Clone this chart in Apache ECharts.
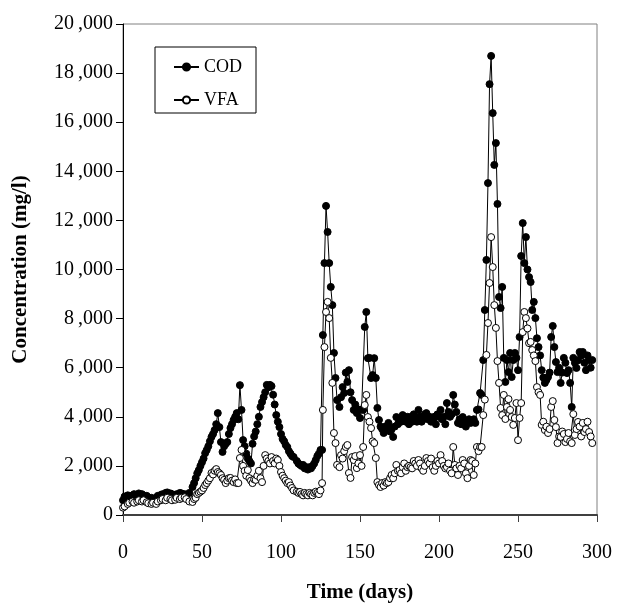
<!DOCTYPE html>
<html><head><meta charset="utf-8">
<script src="https://cdn.jsdelivr.net/npm/echarts@6/dist/echarts.min.js"></script>
<style>html,body{margin:0;padding:0;background:#fff}#c{width:617px;height:604px}</style>
</head><body><div id="c"></div>
<script>
const days = [0,1,3,4,6,7,9,10,12,13,15,16,18,19,21,22,24,25,27,28,30,31,33,34,36,37,39,40,
42,44,45,46,47,48,49,50,51,52,53,54,55,56,57,58,59,60,61,62,63,64,65,66,67,68,69,70,71,72,73,74,75,76,77,78,79,80,81,
82,83,84,85,86,87,88,89,90,91,92,93,94,95,96,97,98,99,100,101,102,103,104,105,106,107,108,110,111,112,113,114,115,116,117,118,119,120,121,122,123,124,125,126,
126.5,127.5,128.5,129.5,130.5,131.5,132.5,133.5,134.5,135.5,137,138,139,140,141,142,143,144,145,146,147,148,149,150,151,152,153,154,155,156,157,158,159,160,
161,162,163,164,165,166,167,168,169,170,171,172,173,174,175,176,177,178,179,180,181,182,183,184,185,186,187,188,189,190,191,192,193,194,195,196,197,198,199,
200,201,202,203,204,205,206,207,208,209,210,211,212,213,214,215,216,217,218,219,220,221,222,223,224,225,226,227,228,229,230,231,232,233,234,235,236,237,238,239,
240,241,242,243,244,245,246,247,248,249,250,251,252,253,254,255,256,257,258,259,260,261,262,263,264,265,266,267,268,269,270,271,272,273,274,275,276,277,278,279,
280,281,282,283,284,285,286,287,288,289,290,291,292,293,294,295,296,297];
const cod = [600,750,800,780,800,850,820,880,850,800,780,720,700,650,700,780,820,850,900,920,880,850,800,850,900,880,850,800,
900,1140,1300,1500,1700,1830,2000,2150,2300,2520,2650,2800,3000,3180,3300,3460,3700,4150,3580,2970,2570,2800,2900,2970,3300,3540,3700,3870,4000,4150,3900,5290,4280,3050,2800,2500,2300,2200,2100,
2900,3200,3400,3700,4000,4400,4600,4800,5000,5300,5200,5300,5250,4900,4500,4070,3800,3580,3300,3100,3000,2850,2770,2600,2500,2400,2360,2200,2100,2050,2000,2040,1900,1950,1850,1950,1900,2000,2100,2240,2400,2500,2650,2650,
7330,10260,12590,11530,10260,9290,8550,6600,5580,4680,4400,4800,5210,4970,5800,5420,5900,5000,4680,4280,4500,4150,4300,3950,4300,4280,7660,8270,6390,6400,5580,5700,6390,5580,
4360,3870,3600,3500,3340,3600,3500,3750,3400,3500,3180,3600,3990,3700,3900,3800,4070,3900,3800,4000,3700,3990,3800,4100,3900,3800,4280,4000,3800,3900,4100,4150,3900,4000,3800,3870,4000,3700,4100,
4000,4280,3900,4000,3700,4560,4200,4000,4100,4890,4500,4200,3750,3900,3700,3990,3700,3600,3800,3900,3750,3800,3900,3750,4280,4300,4970,4890,6310,8350,10390,13520,17550,18700,16370,14260,15150,12670,8880,8430,
9290,6400,5420,6310,5820,6600,5620,6310,6600,6400,5900,7250,10550,11890,10260,11320,10000,9690,9490,8350,8680,8020,7200,6840,6500,5900,5600,5380,5500,5620,5800,7250,7700,6840,6230,5820,6000,5380,5800,6400,
6200,5780,5900,5380,4400,6400,6200,5990,6300,6640,6500,6640,6200,5900,6500,6310,6000,6310];
const vfa = [300,350,450,500,550,500,550,600,550,600,520,480,450,500,450,550,600,650,600,700,650,600,620,700,650,700,720,650,
550,530,650,700,850,900,950,1000,1100,1220,1300,1400,1500,1710,1650,1800,1870,1750,1700,1630,1500,1430,1300,1400,1500,1510,1400,1340,1450,1300,1300,2320,2650,2000,1800,1600,1830,1500,1400,
1300,1450,1430,1600,1800,1500,1340,2000,2440,2300,2200,2100,2360,2200,2100,2300,2240,2000,1750,1600,1500,1400,1300,1340,1200,1100,1000,950,900,940,850,800,900,850,800,900,850,800,900,950,900,850,1000,1300,
4280,6840,8270,8680,8020,6400,5380,3340,2930,2040,1950,2440,2300,2600,2770,2850,1710,1510,2360,2240,2400,1910,2100,2440,2000,2770,4480,4890,3990,3800,3540,3000,2930,2320,
1340,1220,1140,1300,1200,1340,1300,1340,1500,1630,1500,1700,2040,1800,1830,1700,1950,2100,1800,1950,2000,1950,1900,2200,2100,2000,2240,2100,1900,1800,2000,2320,2200,2100,2300,1950,1800,2000,2200,
2100,2440,2200,2000,1900,1950,2100,1800,1700,2770,2040,1900,1630,2000,1900,2240,2100,1700,1500,2000,2240,2200,1630,2100,2770,2600,2770,2770,4070,4700,6520,7820,9450,11320,10100,8550,7620,6270,5380,4360,
4070,4890,3910,4400,4720,4280,3990,3670,3950,4560,3050,3950,4560,7450,8270,8020,7600,7000,7050,6720,6500,6270,5210,5000,4890,3670,3800,3460,3600,3340,3500,4400,4640,3870,3580,2930,3200,3180,3400,3300,
2970,3100,3340,3000,2930,4110,3260,3500,3790,3600,3200,3750,3380,3500,3800,3380,3200,2930];
const yTicks = [0,2000,4000,6000,8000,10000,12000,14000,16000,18000,20000];
const xTicks = [0,50,100,150,200,250,300];

const F = '"Liberation Serif","Times New Roman",serif';
const chart = echarts.init(document.getElementById('c'), null, {renderer:'canvas'});
const codData = days.map((d,i)=>[d,cod[i]]);
const vfaData = days.map((d,i)=>[d,vfa[i]]);
function fmt(v){ if(v===0) return '0'; const t=Math.floor(v/1000); return t+'\u2009,000'; }
chart.setOption({
  animation:false,
  backgroundColor:'#fff',
  grid:{left:123,right:20,top:24,bottom:89,show:true,borderColor:'#808080',borderWidth:1,
        containLabel:false,outerBoundsMode:'none'},
  legend:{
    orient:'vertical', left:155, top:47,
    padding:[11,14,4,18], itemGap:15, itemWidth:25, itemHeight:9,
    borderColor:'#000', borderWidth:1, backgroundColor:'#fff',
    textStyle:{fontFamily:F,fontSize:18,color:'#000',lineHeight:18},
    data:['COD','VFA']
  },
  xAxis:{
    type:'value', min:0, max:300, interval:50,
    name:'Time (days)', nameLocation:'middle', nameGap:67,
    nameTextStyle:{fontFamily:F,fontSize:21,fontWeight:'bold',color:'#000'},
    axisLine:{onZero:false,lineStyle:{color:'#404040',width:2}},
    axisTick:{show:true,inside:false,length:7,lineStyle:{color:'#404040',width:1}},
    axisLabel:{fontFamily:F,fontSize:20,color:'#000',margin:28},
    splitLine:{show:false}
  },
  yAxis:{
    type:'value', min:0, max:20000, interval:2000,
    name:'Concentration (mg/l)', nameLocation:'middle', nameGap:92,
    nameTextStyle:{fontFamily:F,fontSize:21,fontWeight:'bold',color:'#000'},
    axisLine:{show:true,onZero:false,lineStyle:{color:'#000',width:1}},
    axisTick:{show:true,inside:false,length:7,lineStyle:{color:'#000'}},
    axisLabel:{fontFamily:F,fontSize:20,color:'#000',margin:10,formatter:fmt},
    splitLine:{show:false}
  },
  series:[
    {name:'COD',type:'line',data:codData,symbol:'circle',symbolSize:7,
     lineStyle:{color:'#000',width:1},itemStyle:{color:'#000',borderColor:'#000',borderWidth:1},z:2},
    {name:'VFA',type:'line',data:vfaData,symbol:'circle',symbolSize:7,
     lineStyle:{color:'#000',width:1},itemStyle:{color:'#fff',borderColor:'#000',borderWidth:1},z:3}
  ]
});
</script></body></html>
